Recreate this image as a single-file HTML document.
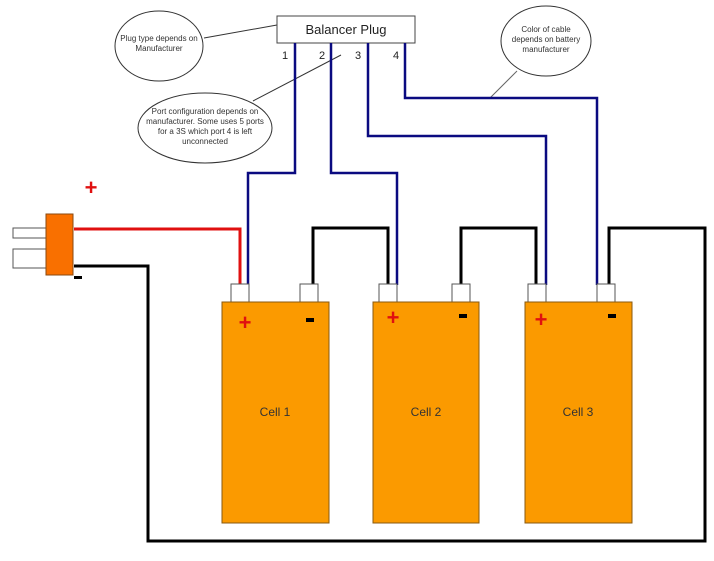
<!DOCTYPE html>
<html><head><style>
html,body{margin:0;padding:0;background:#fff;}
svg{display:block;}
text{font-family:"Liberation Sans",sans-serif;}
</style></head><body>
<svg width="714" height="561" viewBox="0 0 714 561" xmlns="http://www.w3.org/2000/svg">
<!-- callouts -->
<line x1="204" y1="38" x2="277" y2="25" stroke="#333" stroke-width="1"/>
<ellipse cx="159" cy="46" rx="44" ry="35" fill="#fff" stroke="#333"/>
<text x="159" y="41" font-size="8" text-anchor="middle" fill="#333">Plug type depends on</text>
<text x="159" y="51" font-size="8" text-anchor="middle" fill="#333">Manufacturer</text>
<line x1="253" y1="101" x2="341" y2="55" stroke="#333" stroke-width="1"/>
<ellipse cx="205" cy="128" rx="67" ry="35" fill="#fff" stroke="#333"/>
<text x="205" y="114" font-size="8" text-anchor="middle" fill="#333">Port configuration depends on</text>
<text x="205" y="124" font-size="8" text-anchor="middle" fill="#333">manufacturer. Some uses 5 ports</text>
<text x="205" y="134" font-size="8" text-anchor="middle" fill="#333">for a 3S which port 4 is left</text>
<text x="205" y="144" font-size="8" text-anchor="middle" fill="#333">unconnected</text>
<line x1="517" y1="71" x2="490" y2="98" stroke="#666" stroke-width="1"/>
<ellipse cx="546" cy="41" rx="45" ry="35" fill="#fff" stroke="#333"/>
<text x="546" y="32" font-size="8" text-anchor="middle" fill="#333">Color of cable</text>
<text x="546" y="42" font-size="8" text-anchor="middle" fill="#333">depends on battery</text>
<text x="546" y="52" font-size="8" text-anchor="middle" fill="#333">manufacturer</text>
<!-- balancer plug -->
<rect x="277" y="16" width="138" height="27" fill="#fff" stroke="#444"/>
<text x="346" y="34" font-size="13" text-anchor="middle" fill="#222">Balancer Plug</text>
<text x="285" y="59" font-size="11" text-anchor="middle" fill="#222">1</text>
<text x="322" y="59" font-size="11" text-anchor="middle" fill="#222">2</text>
<text x="358" y="59" font-size="11" text-anchor="middle" fill="#222">3</text>
<text x="396" y="59" font-size="11" text-anchor="middle" fill="#222">4</text>
<!-- blue wires -->
<g fill="none" stroke="#0a0a80" stroke-width="2.5">
<polyline points="295,43 295,173 248,173 248,285"/>
<polyline points="331,43 331,173 397,173 397,285"/>
<polyline points="368,43 368,136 546,136 546,285"/>
<polyline points="405,43 405,98 597,98 597,285"/>
</g>
<!-- red wire -->
<polyline points="74,229 240,229 240,285" fill="none" stroke="#e01010" stroke-width="3"/>
<!-- black wires -->
<g fill="none" stroke="#000" stroke-width="3">
<polyline points="74,266 148,266 148,541 705,541 705,228 609,228 609,285"/>
<polyline points="313,285 313,228 388,228 388,285"/>
<polyline points="461,285 461,228 536,228 536,285"/>
</g>
<!-- connector -->
<rect x="13" y="228" width="33" height="10" fill="#fff" stroke="#555"/>
<rect x="13" y="249" width="33" height="19" fill="#fff" stroke="#555"/>
<rect x="46" y="214" width="27" height="61" fill="#f97000" stroke="#8a4a10"/>
<text x="91" y="195" font-size="22" font-weight="bold" text-anchor="middle" fill="#e01010">+</text>
<rect x="74" y="276" width="8" height="3" fill="#000"/>
<!-- terminals -->
<g fill="#fff" stroke="#555">
<rect x="231" y="284" width="18" height="19"/><rect x="300" y="284" width="18" height="19"/>
<rect x="379" y="284" width="18" height="19"/><rect x="452" y="284" width="18" height="19"/>
<rect x="528" y="284" width="18" height="19"/><rect x="597" y="284" width="18" height="19"/>
</g>
<!-- cells -->
<g fill="#fb9a00" stroke="#8a5a10">
<rect x="222" y="302" width="107" height="221"/>
<rect x="373" y="302" width="106" height="221"/>
<rect x="525" y="302" width="107" height="221"/>
</g>
<g font-size="22" font-weight="bold" fill="#e01010" text-anchor="middle">
<text x="245" y="330">+</text><text x="393" y="325">+</text><text x="541" y="327">+</text>
</g>
<g fill="#000">
<rect x="306" y="318" width="8" height="4"/><rect x="459" y="314" width="8" height="4"/><rect x="608" y="314" width="8" height="4"/>
</g>
<g font-size="12" text-anchor="middle" fill="#333">
<text x="275" y="416">Cell 1</text><text x="426" y="416">Cell 2</text><text x="578" y="416">Cell 3</text>
</g>
</svg>
</body></html>
